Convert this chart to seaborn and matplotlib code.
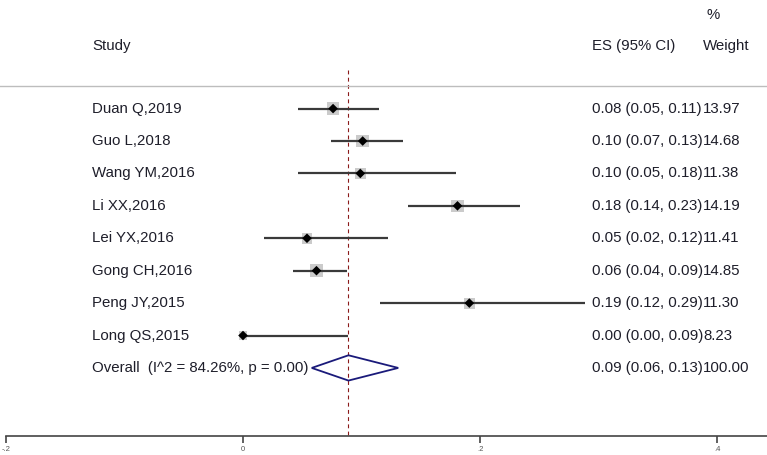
import numpy as np
import pandas as pd
import matplotlib
matplotlib.use('Agg')
import matplotlib.pyplot as plt
import matplotlib.transforms as mtransforms
from matplotlib.patches import Polygon
import seaborn as sns

# study data
studies = ['Duan Q,2019', 'Guo L,2018', 'Wang YM,2016', 'Li XX,2016',
           'Lei YX,2016', 'Gong CH,2016', 'Peng JY,2015', 'Long QS,2015']
es = [0.076, 0.101, 0.099, 0.181, 0.054, 0.062, 0.191, 0.0]
lo = [0.046, 0.074, 0.046, 0.139, 0.018, 0.042, 0.116, 0.0]
hi = [0.115, 0.135, 0.180, 0.234, 0.122, 0.088, 0.289, 0.089]
es_text = ['0.08 (0.05, 0.11)', '0.10 (0.07, 0.13)', '0.10 (0.05, 0.18)',
           '0.18 (0.14, 0.23)', '0.05 (0.02, 0.12)', '0.06 (0.04, 0.09)',
           '0.19 (0.12, 0.29)', '0.00 (0.00, 0.09)']
weights = ['13.97', '14.68', '11.38', '14.19', '11.41', '14.85', '11.30', '8.23']
w_num = [13.97, 14.68, 11.38, 14.19, 11.41, 14.85, 11.30, 8.23]

overall_label = 'Overall  (I^2 = 84.26%, p = 0.00)'
overall_es = 0.089
overall_lo = 0.058
overall_hi = 0.131
overall_text = '0.09 (0.06, 0.13)'
overall_weight = '100.00'

xticks = [-0.2, 0, 0.2, 0.4]
xtick_labels = ['-.2', '0', '.2', '.4']

df = pd.DataFrame({'study': studies, 'es': es, 'lo': lo, 'hi': hi,
                   'es_text': es_text, 'weight': weights, 'w': w_num})
df['row'] = np.arange(len(df))

sns.set_style('white')
plt.rcParams['font.family'] = ['Liberation Sans', 'DejaVu Sans']

W, H = 767, 455
fig = plt.figure(figsize=(W / 100, H / 100), dpi=100)
ax = fig.add_axes([6 / W, 19 / H, 761 / W, 436 / H])
ax.set_xlim(-0.2, -0.2 + 761 / 1185)
ax.set_ylim(10.1, -3.35)
ax.patch.set_alpha(0)

# weight squares, CI lines, point estimates
ax.hlines(df['row'], df['lo'], df['hi'], color='#3a3a3a', lw=1.6, zorder=2)
sns.scatterplot(data=df, x='es', y='row', marker='s', size='w', sizes=(40, 85),
                color='#cbcbcb', edgecolor='none', legend=False, ax=ax, zorder=1)
sns.scatterplot(data=df, x='es', y='row', marker='D', s=24, color='black',
                edgecolor='none', legend=False, ax=ax, zorder=3)

# overall diamond
orow = len(df)
diamond = Polygon([[overall_lo, orow], [overall_es, orow - 0.39],
                   [overall_hi, orow], [overall_es, orow + 0.39]],
                  closed=True, fill=False, edgecolor='#1a1a7a', lw=1.3, zorder=3)
ax.add_patch(diamond)

# null / overall reference line
ax.vlines(overall_es, -1.18, 10.1, color='#8b1a1a', lw=0.8, ls=(0, (3.5, 3)), zorder=0)

# header separator
ax.axhline(-0.71, color='#bdbdbd', lw=1.0, xmin=-0.01, xmax=1)
line = ax.lines[-1]
line.set_clip_on(False)

# text columns
tx = mtransforms.blended_transform_factory(fig.transFigure, ax.transData)
fs = 10.8
tc = '#1e1e2a'
col_study, col_es, col_w = 92 / W, 592 / W, 703 / W
for r, s, t, w in zip(df['row'], df['study'], df['es_text'], df['weight']):
    ax.text(col_study, r, s, transform=tx, fontsize=fs, va='center', color=tc)
    ax.text(col_es, r, t, transform=tx, fontsize=fs, va='center', color=tc)
    ax.text(col_w, r, w, transform=tx, fontsize=fs, va='center', color=tc)
ax.text(col_study, orow, overall_label, transform=tx, fontsize=fs, va='center', color=tc)
ax.text(col_es, orow, overall_text, transform=tx, fontsize=fs, va='center', color=tc)
ax.text(col_w, orow, overall_weight, transform=tx, fontsize=fs, va='center', color=tc)

ax.text(col_study, -1.92, 'Study', transform=tx, fontsize=fs, va='center', color=tc)
ax.text(col_es, -1.92, 'ES (95% CI)', transform=tx, fontsize=fs, va='center', color=tc)
ax.text(col_w, -1.92, 'Weight', transform=tx, fontsize=fs, va='center', color=tc)
ax.text(col_w + 0.004, -2.9, '%', transform=tx, fontsize=fs, va='center', color=tc)

# axes styling
for side in ['left', 'top', 'right']:
    ax.spines[side].set_visible(False)
ax.spines['bottom'].set_color('#444444')
ax.spines['bottom'].set_linewidth(1.2)
ax.set_yticks([])
ax.set_xticks(xticks)
ax.set_xticklabels(xtick_labels, fontsize=5.5, color='#555555')
ax.tick_params(axis='x', direction='out', length=5, width=1.2, color='#444444', pad=2,
               bottom=True)
ax.set_xlabel('')
ax.set_ylabel('')

fig.savefig('out.png', dpi=100)
